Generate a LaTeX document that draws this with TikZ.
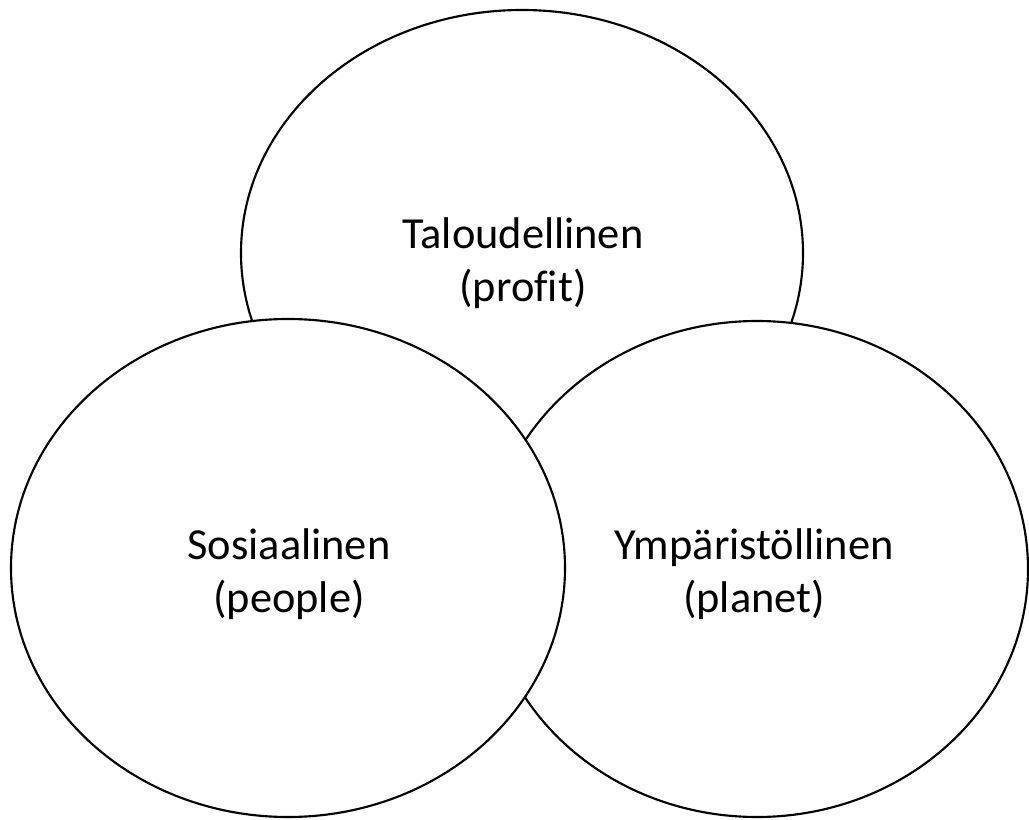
\documentclass[tikz,border=0pt]{standalone}
\usepackage{fontspec}
\setmainfont{Carlito}[Ligatures=CommonOff]
\usetikzlibrary{shapes.geometric}
\tikzset{
  pillar/.style={ellipse, draw, fill=white, line width=1.6pt, inner sep=0pt},
  pillartext/.style={align=center, font=\fontsize{33.3}{40}\selectfont}
}
\begin{document}
\begin{tikzpicture}[x=0.75pt, y=-0.75pt]
  \useasboundingbox (0,0) rectangle (1029,820);
  % three pillars, the economic one lies behind
  \node[pillar, minimum width=421.5pt, minimum height=364.5pt] (profit) at (522,253) {};
  \node[pillar, minimum width=406.5pt, minimum height=372pt] (planet) at (757,569) {};
  \node[pillar, minimum width=415.5pt, minimum height=373.5pt] (people) at (288,568) {};
  % labels
  \node[pillartext] (profitlbl) at (523,263) {Taloudellinen\\(profit)};
  \node[pillartext] (peoplelbl) at (289,574) {Sosiaalinen\\(people)};
  \node[pillartext] (planetlbl) at (754,574) {Ympäristöllinen\\(planet)};
\end{tikzpicture}
\end{document}
